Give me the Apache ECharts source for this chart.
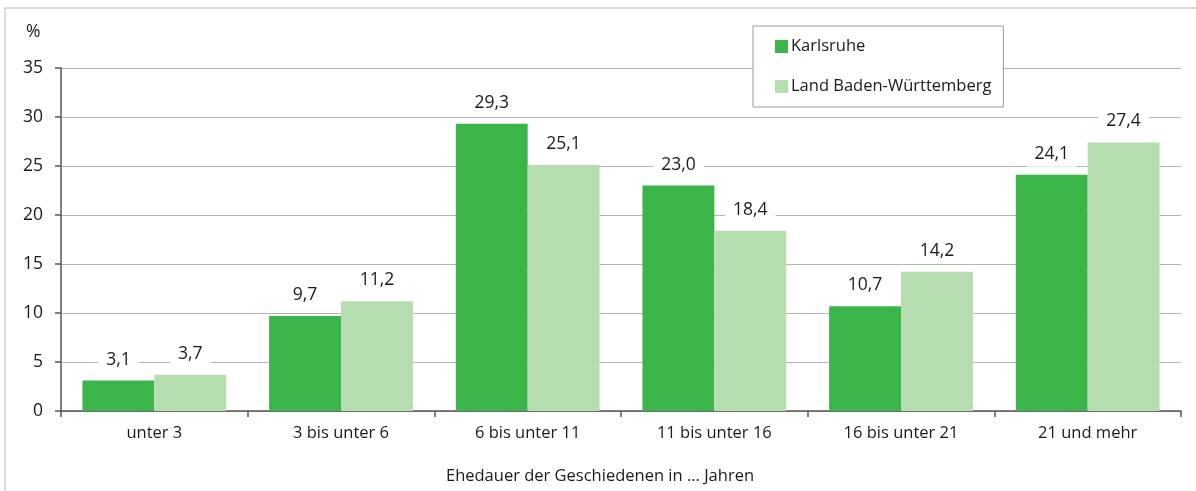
<!DOCTYPE html>
<html>
<head>
<meta charset="utf-8">
<script src="https://cdn.jsdelivr.net/npm/echarts@6/dist/echarts.min.js"></script>
<style>html,body{margin:0;padding:0;background:#fff}#c{width:1196px;height:491px}</style>
</head>
<body>
<div id="c"></div>
<script>
const categories = ['unter 3', '3 bis unter 6', '6 bis unter 11', '11 bis unter 16', '16 bis unter 21', '21 und mehr'];
const karlsruhe = [3.1, 9.7, 29.3, 23.0, 10.7, 24.1];
const landBW = [3.7, 11.2, 25.1, 18.4, 14.2, 27.4];
const seriesNames = ['Karlsruhe', 'Land Baden-Württemberg'];
const yTicks = [0, 5, 10, 15, 20, 25, 30, 35];

const FONT = '"Open Sans", "Noto Sans", sans-serif';
const TXT = '#1a1a1a';

function lbl() {
  return {
    show: true, position: 'top', distance: 8,
    formatter: p => p.value.toFixed(1).replace('.', ','),
    backgroundColor: '#fff', padding: [4, 8],
    color: TXT, fontFamily: FONT, fontSize: 17.5
  };
}

const chart = echarts.init(document.getElementById('c'), null, {renderer: 'canvas'});
chart.setOption({
  animation: false,
  backgroundColor: '#fff',
  textStyle: {fontFamily: FONT},
  grid: {left: 61, right: 15, top: 68, bottom: 80},
  graphic: [
    {type: 'rect', shape: {x: 5, y: 8, width: 1300, height: 600}, style: {fill: 'none', stroke: '#cfcfcf', lineWidth: 1.5}, z: 0},
    {type: 'text', left: 26, top: 23, style: {text: '%', fill: TXT, font: '17.5px ' + FONT}},
    {type: 'text', x: 600, y: 476, style: {text: 'Ehedauer der Geschiedenen in ... Jahren', fill: TXT, font: '16.5px ' + FONT, textAlign: 'center', textVerticalAlign: 'middle'}}
  ],
  legend: {
    orient: 'vertical', left: 753, top: 26,
    padding: [12, 12, 12, 22], itemGap: 23,
    itemWidth: 13, itemHeight: 13, icon: 'rect',
    borderColor: '#999', borderWidth: 1, backgroundColor: '#fff',
    textStyle: {color: TXT, fontFamily: FONT, fontSize: 16.5, padding: [0, 0, 0, -2]},
    data: seriesNames
  },
  xAxis: {
    type: 'category', data: categories,
    axisLine: {lineStyle: {color: '#555', width: 1.5}},
    axisTick: {show: true, length: 6, lineStyle: {color: '#555', width: 1.5}},
    axisLabel: {color: TXT, fontSize: 16.5, fontFamily: FONT, margin: 14}
  },
  yAxis: {
    type: 'value', min: 0, max: 35, interval: 5,
    axisLine: {show: true, lineStyle: {color: '#555', width: 1.5}},
    axisTick: {show: true, length: 6, lineStyle: {color: '#555', width: 1.5}},
    axisLabel: {color: TXT, fontSize: 17.5, fontFamily: FONT, margin: 18,
      formatter: v => yTicks.includes(v) ? String(v) : ''},
    splitLine: {show: true, lineStyle: {color: '#b4b4b4', width: 1.2}}
  },
  series: [
    {name: seriesNames[0], type: 'bar', data: karlsruhe, barGap: '0%', barCategoryGap: '23%',
     itemStyle: {color: '#3bb44a'}, label: lbl(), z: 3},
    {name: seriesNames[1], type: 'bar', data: landBW, barGap: '0%', barCategoryGap: '23%',
     itemStyle: {color: '#b6ddb0'}, label: lbl(), z: 3}
  ]
});
</script>
</body>
</html>
